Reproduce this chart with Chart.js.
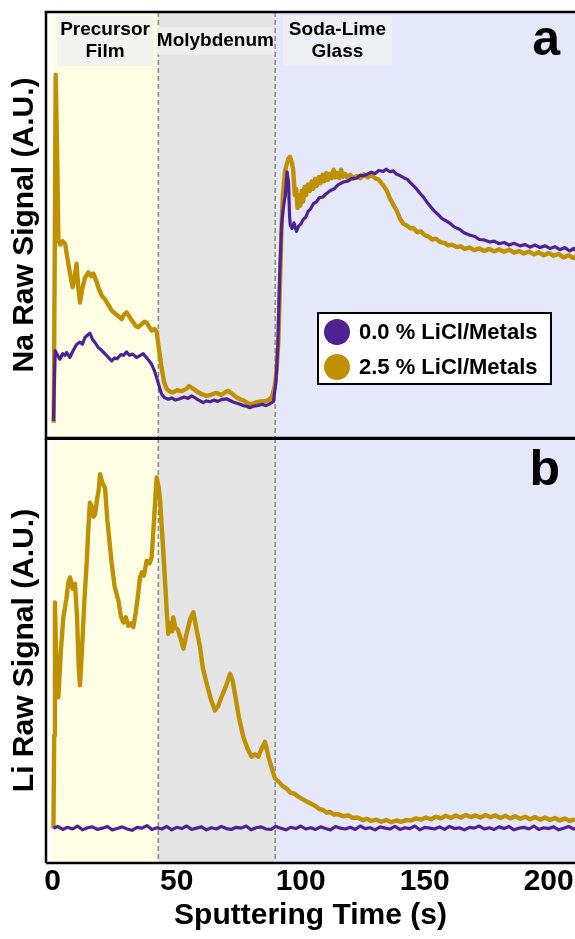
<!DOCTYPE html>
<html lang="en">
<head>
<meta charset="UTF-8">
<title>Na and Li Raw Signal vs Sputtering Time</title>
<script src="https://cdn.jsdelivr.net/npm/chart.js"></script>
<style>
  body { margin: 0; background: #fff; }
  .figure { position: relative; width: 575px; height: 939px; overflow: hidden; }
  .figure canvas { position: absolute; left: 0; }
  #naChart { top: 0; }
  #liChart { top: 438px; }
</style>
</head>
<body>
<div class="figure">
  <canvas id="naChart" width="575" height="440"></canvas>
  <canvas id="liChart" width="575" height="501"></canvas>
</div>
<script>
// ---- data (sputtering time s, raw signal A.U.) ----
const layerEdges = [0, 42.6, 89.7];
const layerNames = [['Precursor', 'Film'], ['Molybdenum'], ['Soda-Lime', 'Glass']];
const layerLabelCentres = [21.1, 65.6, 114.8];
const xTicks = [0, 50, 100, 150, 200];
const seriesLabels = ['0.0 % LiCl/Metals', '2.5 % LiCl/Metals'];

// Na, 0.0 % LiCl
const naPure = [[0.3,4],[0.7,14],[1.0,20.5],[2.0,19.4],[2.9,18.5],[4.0,19.8],[5.0,19.4],[5.6,20.1],[6.9,18.9],[8.3,20.6],[9.7,22.0],[11.0,22.5],[12.0,22.0],[13.0,23.6],[14.0,24.1],[15.0,24.6],[16.0,23.2],[17.2,22.3],[18.4,21.2],[19.5,20.7],[20.5,20.1],[22.0,19.2],[23.0,18.6],[23.8,18.1],[25.0,18.8],[26.0,18.6],[27.5,19.6],[28.5,19.4],[29.8,20.2],[31.0,19.4],[32.2,19.7],[33.9,18.9],[35.0,19.3],[36.5,19.8],[37.5,19.1],[38.5,18.4],[39.9,17.3],[41.0,15.8],[41.9,14.2],[43.0,12.0],[43.9,10.3],[45.0,9.5],[46.6,9.1],[48.0,9.4],[49.5,8.9],[51.3,9.2],[53.0,9.6],[54.5,9.3],[56.0,9.9],[57.5,9.4],[58.5,9.0],[60.7,8.3],[62.0,8.7],[63.5,8.5],[65.0,8.9],[66.5,8.6],[68.0,9.0],[70.1,9.2],[71.5,8.8],[72.5,8.5],[74.0,8.2],[75.5,7.9],[77.0,7.6],[78.5,7.4],[79.5,7.1],[81.0,7.5],[82.5,7.6],[84.5,7.9],[86.0,7.6],[87.5,8.0],[89.0,8.6],[90.0,13],[90.8,22],[91.5,38],[92.3,50],[93.0,54],[93.8,57],[94.5,62.5],[95.1,60],[95.5,52],[95.8,50],[96.5,49.2],[97.3,50.5],[98.3,48.5],[99.2,49.8],[100.0,50.2],[101.0,51.3],[102.0,51.8],[103.0,53.2],[104.0,53.8],[105.1,55.0],[106.3,55.4],[107.5,56.4],[109.0,56.6],[110.4,57.4],[112.0,58.1],[113.5,58.5],[115.0,59.4],[117.2,60.1],[119.0,60.3],[120.5,60.9],[122.5,61.0],[124,61.7],[125.3,61.5],[127,62.0],[128.5,62.4],[130,62.1],[131.5,62.8],[133.3,62.6],[134.5,63.1],[136.0,62.5],[137.3,62.7],[138.7,61.9],[140,61.6],[141.5,61.1],[143,60.7],[144.1,60.0],[145.5,59.2],[146.8,58.4],[148,57.5],[149.4,56.6],[151,55.3],[152.5,54.2],[154,53.2],[155.5,52.4],[157,51.5],[158.5,51.0],[160.2,50.4],[162,49.5],[164,49.0],[166,48.1],[168.3,47.6],[170.3,47.3],[172,46.6],[174,46.5],[176.3,46.0],[178,46.2],[180,45.6],[182,45.9],[184,45.3],[186,45.7],[188.4,45.1],[190.5,45.4],[192.5,44.8],[194.5,45.3],[196.5,44.7],[198.5,45.1],[200.5,44.5],[202.5,44.9],[204.5,44.2],[206.5,44.7],[208.5,43.9],[210,44.5],[211,44.1]];

// Na, 2.5 % LiCl
const naLiCl = [[0.4,3.6],[0.8,40],[1.2,85.2],[1.7,70],[2.3,46.5],[3.0,45.4],[4.0,46.2],[5.0,45.6],[6.0,42.0],[7.0,38.6],[8.0,35.4],[8.8,37.5],[9.6,40.9],[10.3,35.5],[11.0,31.8],[12.0,35.2],[13.0,37.6],[14.4,38.9],[15.5,38.0],[16.4,38.6],[17.5,37.0],[18.5,35.2],[19.8,33.4],[21.0,32.6],[22.5,31.2],[23.8,29.9],[25.0,29.3],[26.5,28.6],[27.8,27.9],[28.8,29.0],[29.8,29.5],[31.0,28.4],[32.5,27.1],[33.5,26.3],[34.5,26.0],[36.0,26.8],[37.0,27.3],[37.9,27.1],[39.0,26.0],[39.9,25.2],[41.0,25.6],[41.9,25.0],[42.8,21.0],[43.9,16.5],[45.0,13.0],[46.0,11.5],[47.5,10.8],[48.6,10.7],[50.0,11.2],[52.0,11.0],[54.0,11.6],[55.0,12.2],[56.0,11.8],[57.0,11.4],[58.0,11.0],[60.0,10.3],[62.1,9.9],[64.0,10.2],[66.0,10.6],[68.0,10.1],[69.5,10.7],[70.8,11.1],[72.5,10.3],[74.0,9.6],[75.5,9.1],[77.0,8.8],[78.5,8.2],[80.2,7.9],[82.0,8.4],[84.0,8.6],[86.3,8.7],[88.3,9.5],[89.5,12.0],[90.3,16],[91.0,22.8],[91.6,35],[92.2,48],[92.8,57],[93.7,62.8],[95.0,65.6],[95.7,66.0],[96.5,64.5],[97.0,62.8],[97.6,57],[98.2,58.5],[98.7,54],[99.2,57],[99.8,54.5],[100.4,58],[101.0,55.5],[101.6,59],[102.2,57],[102.9,59.5],[103.7,58.0],[104.4,60.2],[105.0,58.5],[105.8,60.8],[106.5,59.2],[107.3,61.3],[108.0,59.8],[108.8,61.8],[109.5,60.3],[110.3,62.2],[111.0,60.6],[111.8,62],[112.5,61.0],[113.3,63.0],[114.0,61.2],[114.8,62.2],[115.5,61.0],[116.3,63.0],[117.0,61.3],[118.0,62],[119.0,61.0],[120.0,61.8],[121.2,60.9],[122.5,61.5],[124,61.0],[125.5,61.9],[127,61.2],[128.5,61.7],[130.0,61.0],[131.5,60.6],[133,59.5],[134.7,58.1],[136.0,56.2],[137.3,54.8],[138.7,53.4],[140,51.5],[141.4,50.3],[143.0,49.8],[144.3,49.2],[145.4,49.3],[147,48.3],[148.5,48.5],[150.0,47.6],[151.5,47.3],[153,46.6],[154.5,46.8],[156.2,46.0],[158,45.8],[159.5,45.2],[161,45.4],[162.9,44.8],[164.5,45.0],[166,44.4],[168,44.7],[170,44.1],[172,44.5],[174,43.9],[176,44.4],[178,43.8],[180,44.3],[182,43.7],[184,44.2],[186,43.5],[188,43.9],[190,43.3],[192,43.8],[194,43.1],[196,43.6],[198,42.9],[200,43.4],[202,42.8],[204,43.2],[206,42.4],[208,42.9],[210,42.2],[211,42.6]];

// Li, 0.0 % LiCl
const liPure = [[0.3,8.2],[2,8.6],[4,7.9],[6,8.4],[8,8.0],[10,8.7],[12,7.8],[14,8.3],[16,8.5],[18,7.9],[20,8.2],[22,8.6],[24,7.8],[26,8.1],[28,8.5],[30,8.0],[32,7.7],[34,8.4],[36,8.2],[38,8.8],[40,7.9],[42,8.3],[44,8.0],[46,8.6],[48,7.8],[50,8.4],[52,8.1],[54,8.7],[56,7.9],[58,8.2],[60,8.5],[62,7.8],[64,8.3],[66,8.0],[68,8.6],[70,8.1],[72,7.9],[74,8.4],[76,8.2],[78,8.7],[80,7.8],[82,8.3],[84,8.5],[86,8.0],[88,7.9],[90,8.6],[92,8.2],[94,7.8],[96,8.4],[98,8.1],[100,8.7],[102,8.0],[104,8.3],[106,7.9],[108,8.5],[110,8.1],[112,7.8],[114,8.6],[116,8.2],[118,8.0],[120,8.4],[122,7.9],[124,8.7],[126,8.1],[128,8.3],[130,7.8],[132,8.5],[134,8.2],[136,8.0],[138,8.6],[140,7.9],[142,8.3],[144,8.1],[146,8.7],[148,7.8],[150,8.4],[152,8.2],[154,8.0],[156,8.5],[158,7.9],[160,8.6],[162,8.1],[164,8.3],[166,7.8],[168,8.4],[170,8.2],[172,8.7],[174,8.0],[176,8.3],[178,7.9],[180,8.5],[182,8.1],[184,8.6],[186,7.8],[188,8.2],[190,8.4],[192,8.0],[194,8.7],[196,7.9],[198,8.3],[200,8.1],[202,8.5],[204,7.8],[206,8.2],[208,8.6],[210,8.0],[211,8.3]];

// Li, 2.5 % LiCl
const liLiCl = [[0.3,8.1],[0.6,30],[0.9,61.3],[1.5,46],[2.3,39.0],[3.3,50.0],[4.3,57.8],[5.5,62.0],[6.3,66],[7.0,67.2],[8.0,64.5],[9.0,65.7],[9.8,58.0],[10.5,46.0],[11.0,41.8],[11.8,50.0],[12.8,62.0],[13.7,70.4],[14.3,78.0],[15.0,84.8],[16.0,83.6],[16.5,81.5],[17.1,82.1],[18.0,86.0],[18.5,87.5],[19.1,91.5],[20.0,89.5],[21.1,88.3],[22.0,81.0],[23.0,75.0],[23.8,70.4],[25.0,65.0],[26.5,61.7],[27.5,58.0],[28.5,56.6],[29.5,57.8],[30.5,55.8],[31.5,56.4],[32.5,55.5],[33.5,59.0],[34.5,63.5],[35.2,67.2],[36.0,68.4],[36.8,67.6],[37.9,71.1],[39.0,70.5],[39.9,71.9],[41.0,82.0],[41.9,90.7],[42.7,88.5],[43.3,85.2],[44.3,76.0],[45.3,66.4],[46.0,59],[46.6,53.9],[47.5,56.5],[48.2,54.5],[48.6,57.8],[49.4,55.5],[50.5,54.8],[51.5,53.0],[52.7,50.4],[54.0,54.0],[55.5,57.5],[56.7,59.0],[58.0,55.0],[59.4,50.8],[60.5,46.0],[62.1,42.2],[63.8,38.5],[65.4,35.9],[66.8,37.0],[68.0,39.0],[69.8,41.5],[71.5,44.5],[72.5,43.0],[73.5,39.8],[75.0,34.5],[76.9,29.6],[78.5,27.0],[80.2,25.0],[81.5,25.6],[82.9,25.0],[84.3,27.0],[85.6,28.5],[87.0,25.0],[88.5,22.0],[89.6,19.9],[91.0,19.2],[92.5,18.2],[94.3,17.5],[96.0,16.5],[97.5,16.3],[99.0,15.6],[100.5,15.1],[102.0,14.6],[104,14.0],[105.9,13.4],[107.5,12.7],[109.0,12.5],[110.5,11.8],[111.8,12.0],[113.5,11.4],[115.0,11.5],[117,11.0],[119.2,11.2],[121,10.6],[123.0,10.7],[125,10.1],[126.6,10.4],[128.5,9.9],[130.5,10.2],[132.5,9.7],[134.5,10.1],[136.5,9.6],[138.5,10.0],[140.5,9.7],[142.5,10.1],[144.5,10.0],[146.5,10.5],[148.5,10.2],[150.5,10.7],[152.5,10.3],[154.5,10.9],[156.5,10.5],[158.5,11.1],[160.5,10.6],[162.5,11.2],[164.5,10.7],[166.5,11.3],[168.5,10.8],[170.5,11.2],[172.5,10.7],[174.5,11.3],[176.5,10.8],[178.5,11.2],[180.5,10.6],[182.5,11.1],[184.5,10.5],[186.5,11.0],[188.5,10.4],[190.5,10.9],[192.5,10.3],[194.5,10.8],[196.5,10.2],[198.5,10.7],[200.5,10.1],[202.5,10.6],[204.5,10.0],[206.5,10.5],[208.5,9.9],[210.5,10.3]];

// ---- style ----
const PURPLE = '#4f2293';
const GOLD = '#bf9000';
const FONT = '"Liberation Sans", Arial, sans-serif';
const layerColours = ['#ffffe6', '#e4e4e4', '#e5e8fb'];

const toPoints = arr => arr.map(([x, y]) => ({x, y}));

// bands, dashed layer edges, frame, labels, legend
const panelDecor = {
  id: 'panelDecor',
  beforeDatasetsDraw(chart, args, opts) {
    const {ctx, chartArea: ca, scales: {x}} = chart;
    const edges = [...layerEdges, x.max];
    ctx.save();
    for (let i = 0; i < layerColours.length; i++) {
      const x0 = x.getPixelForValue(edges[i]);
      const x1 = x.getPixelForValue(edges[i + 1]);
      ctx.fillStyle = layerColours[i];
      ctx.fillRect(x0, ca.top, x1 - x0, ca.bottom - ca.top);
    }
    ctx.strokeStyle = '#8a8a8a';
    ctx.lineWidth = 1.5;
    ctx.setLineDash([5, 3]);
    for (const e of layerEdges.slice(1)) {
      const px = x.getPixelForValue(e);
      ctx.beginPath();
      ctx.moveTo(px, ca.top);
      ctx.lineTo(px, ca.bottom);
      ctx.stroke();
    }
    ctx.restore();
  },
  afterDatasetsDraw(chart, args, opts) {
    const {ctx, chartArea: ca, scales: {x}} = chart;
    ctx.save();

    // layer name boxes
    if (opts.layerLabels) {
      const boxW = [96, 117, 109];
      ctx.font = 'bold 19px ' + FONT;
      ctx.textAlign = 'center';
      ctx.textBaseline = 'middle';
      layerNames.forEach((lines, i) => {
        const cx = x.getPixelForValue(layerLabelCentres[i]);
        const cy = ca.top + 29;
        const h = lines.length * 22.5 + 5;
        ctx.fillStyle = 'rgba(240,240,240,0.85)';
        ctx.fillRect(cx - boxW[i] / 2, cy - h / 2, boxW[i], h);
        ctx.fillStyle = '#000';
        lines.forEach((t, j) => {
          ctx.fillText(t, cx, cy + (j - (lines.length - 1) / 2) * 22.5);
        });
      });
    }

    // panel letter
    ctx.fillStyle = '#000';
    ctx.font = 'bold 50px ' + FONT;
    ctx.textAlign = 'right';
    ctx.textBaseline = 'alphabetic';
    ctx.fillText(opts.letter, ca.left + 514, ca.top + opts.letterDrop);

    // legend
    if (opts.legend) {
      const lx = ca.left + 272, ly = ca.top + 301, lw = 233, lh = 71;
      ctx.fillStyle = '#fff';
      ctx.fillRect(lx, ly, lw, lh);
      ctx.strokeStyle = '#000';
      ctx.lineWidth = 2;
      ctx.strokeRect(lx, ly, lw, lh);
      ctx.font = 'bold 22px ' + FONT;
      ctx.textAlign = 'left';
      ctx.textBaseline = 'middle';
      [PURPLE, GOLD].forEach((c, i) => {
        const cy = ly + 19 + i * 35;
        ctx.fillStyle = c;
        ctx.beginPath();
        ctx.arc(lx + 19, cy, 13, 0, Math.PI * 2);
        ctx.fill();
        ctx.fillStyle = '#000';
        ctx.fillText(seriesLabels[i], lx + 41, cy + 1);
      });
    }

    // frame (right side is cut off in the figure)
    ctx.strokeStyle = '#000';
    ctx.lineWidth = 2.5;
    ctx.beginPath();
    ctx.moveTo(ca.left, ca.bottom);
    ctx.lineTo(ca.left, ca.top);
    ctx.moveTo(ca.left, ca.bottom);
    ctx.lineTo(ca.right, ca.bottom);
    ctx.stroke();
    ctx.lineWidth = opts.topLine;
    ctx.beginPath();
    ctx.moveTo(ca.left - 1.25, ca.top + opts.topOffset);
    ctx.lineTo(ca.right, ca.top + opts.topOffset);
    ctx.stroke();
    ctx.restore();
  }
};

function makePanel(id, pure, licl, yTitle, xVisible, decor, padding) {
  return new Chart(document.getElementById(id), {
    type: 'line',
    data: {
      datasets: [
        { label: seriesLabels[0], data: toPoints(pure), borderColor: PURPLE, borderWidth: 3.2, order: 1 },
        { label: seriesLabels[1], data: toPoints(licl), borderColor: GOLD, borderWidth: 4.4, order: 2 }
      ]
    },
    options: {
      responsive: false,
      animation: false,
      devicePixelRatio: 1,
      layout: { padding },
      elements: { point: { radius: 0 }, line: { tension: 0, borderJoinStyle: 'round' } },
      scales: {
        x: {
          type: 'linear',
          display: xVisible,
          min: -2.7,
          max: 210.6,
          grid: { display: false, drawTicks: false },
          border: { display: false },
          afterBuildTicks: s => { s.ticks = xTicks.map(v => ({ value: v })); },
          // the figure is cropped on the right, so no room is kept for the last label
          afterFit: s => { s.paddingLeft = 0; s.paddingRight = 0; },
          ticks: { color: '#000', padding: 4, font: { family: FONT, size: 30, weight: 'bold', lineHeight: 1 } },
          title: {
            display: true,
            text: 'Sputtering Time (s)',
            color: '#000',
            padding: 0,
            font: { family: FONT, size: 30, weight: 'bold', lineHeight: 1 }
          }
        },
        y: {
          min: 0,
          max: 100,
          grid: { display: false, drawTicks: false },
          border: { display: false },
          ticks: { display: false },
          afterFit: s => { s.width = 46; },
          title: {
            display: true,
            text: yTitle,
            color: '#000',
            padding: { top: 10, bottom: 0 },
            font: { family: FONT, size: 30, weight: 'bold', lineHeight: 1 }
          }
        }
      },
      plugins: {
        legend: { display: false },
        tooltip: { enabled: false },
        panelDecor: decor
      }
    },
    plugins: [panelDecor]
  });
}

makePanel('naChart', naPure, naLiCl, 'Na Raw Signal (A.U.)', false,
  { letter: 'a', letterDrop: 43, layerLabels: true, legend: true, topLine: 2.5, topOffset: 0 },
  { top: 12, bottom: 2, left: 0, right: 0 });

makePanel('liChart', liPure, liLiCl, 'Li Raw Signal (A.U.)', true,
  { letter: 'b', letterDrop: 47, layerLabels: false, legend: false, topLine: 2, topOffset: 1 },
  { top: 0, bottom: 8, left: 0, right: 0 });
</script>
</body>
</html>
